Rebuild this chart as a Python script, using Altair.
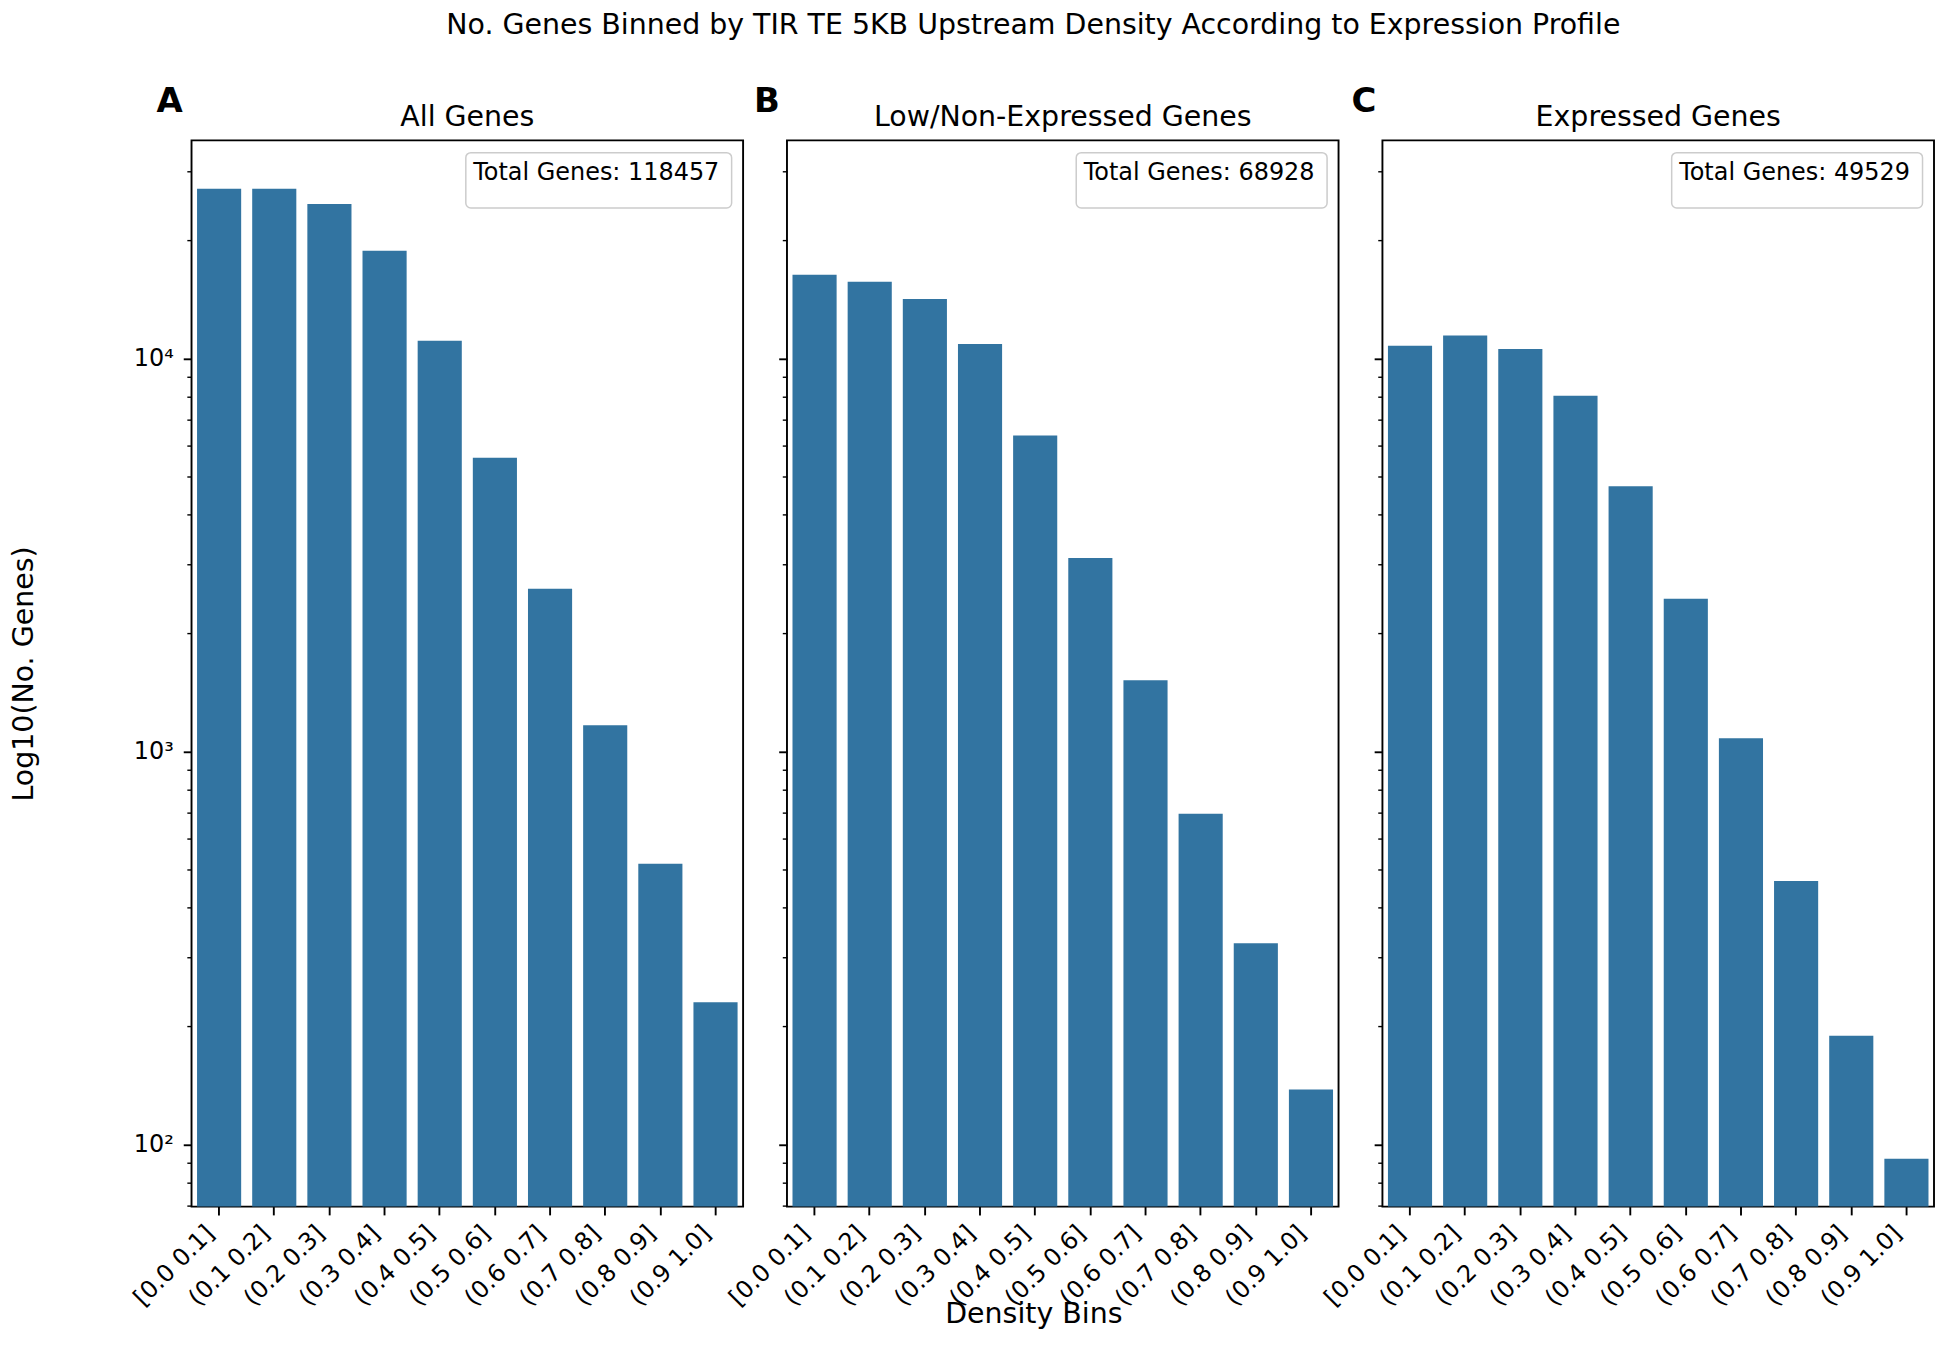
import altair as alt
import pandas as pd

# ---------------- data ----------------
bins = ["[0.0 0.1]", "(0.1 0.2]", "(0.2 0.3]", "(0.3 0.4]", "(0.4 0.5]",
        "(0.5 0.6]", "(0.6 0.7]", "(0.7 0.8]", "(0.8 0.9]", "(0.9 1.0]"]
all_genes = [27030, 27030, 24720, 18790, 11090, 5585, 2592, 1166, 518, 230]
low_genes = [16310, 15670, 14160, 10880, 6360, 3107, 1517, 694, 325, 138]
expr_genes = [10770, 11440, 10560, 8030, 4727, 2446, 1080, 468, 189, 92]
panel_titles = ["All Genes", "Low/Non-Expressed Genes", "Expressed Genes"]
panel_letters = ["A", "B", "C"]
totals = [118457, 68928, 49529]
suptitle = "No. Genes Binned by TIR TE 5KB Upstream Density According to Expression Profile"
y_title = "Log10(No. Genes)"
x_title = "Density Bins"

# ---------------- style / layout ----------------
FONT = "DejaVu Sans"
BLUE = "#3274a1"
W, H = 553, 1069
Y_MIN, Y_MAX = 69.5, 35860
y_tick_values = [70, 80, 90] + [k * 100 for k in range(1, 10)] + \
    [k * 1000 for k in range(1, 10)] + [k * 10000 for k in range(1, 4)]
MAJOR_TEST = "indexof([100, 1000, 10000], datum.value) >= 0"
legend_left = [275, 290, 290]
legend_right = W - 11.5
letter_dx = [-35, -33, -31]
TITLE_FS = 28.5
TEXT_FS = 24

panel_values = [all_genes, low_genes, expr_genes]


def make_panel(i):
    df = pd.DataFrame({"bin": bins, "count": panel_values[i]})
    common_y = dict(
        values=y_tick_values,
        tickSize={"condition": {"test": MAJOR_TEST, "value": 8.3}, "value": 4.7},
        tickWidth={"condition": {"test": MAJOR_TEST, "value": 1.9}, "value": 1.4},
        tickColor="black",
        domain=False,
        grid=False,
        labelOverlap=False,
    )
    if i == 0:
        y_axis = alt.Axis(
            title=y_title,
            labelExpr="datum.value == 100 ? '10²' : datum.value == 1000 ? '10³' : datum.value == 10000 ? '10⁴' : ''",
            labelFont=FONT, labelFontSize=TEXT_FS, labelColor="black", labelPadding=10,
            titleFont=FONT, titleFontSize=TITLE_FS, titleFontWeight="normal",
            titleColor="black", titlePadding=95,
            **common_y,
        )
    else:
        y_axis = alt.Axis(title=None, labels=False, **common_y)

    x_kwargs = dict(
        labelAngle=-45, labelAlign="right", labelBaseline="bottom",
        labelFont=FONT, labelFontSize=TEXT_FS, labelColor="black", labelPadding=23,
        tickSize=8.3, tickWidth=1.9, tickColor="black", domain=False,
        labelOverlap=False, labelLimit=0,
    )
    if i == 1:
        x_axis = alt.Axis(title=x_title, titleFont=FONT, titleFontSize=TITLE_FS,
                          titleFontWeight="normal", titleColor="black",
                          titleX=247, titleY=122, titleBaseline="bottom",
                          **x_kwargs)
    else:
        x_axis = alt.Axis(title=None, **x_kwargs)

    bars = alt.Chart(df).mark_bar(color=BLUE).encode(
        x=alt.X("bin:N", sort=bins,
                scale=alt.Scale(paddingInner=0.2, paddingOuter=0.1),
                axis=x_axis),
        y=alt.Y("count:Q",
                scale=alt.Scale(type="log", domain=[Y_MIN, Y_MAX], nice=False),
                axis=y_axis),
        y2=alt.datum(Y_MIN),
    )

    legend_df = pd.DataFrame({"label": [f"Total Genes: {totals[i]}"]})
    box = alt.Chart(legend_df).mark_rect(
        fill="white", stroke="#cccccc", strokeWidth=1.5, cornerRadius=5
    ).encode(
        x=alt.value(legend_left[i]), x2=alt.value(legend_right),
        y=alt.value(12.3), y2=alt.value(67.7),
    )
    text = alt.Chart(legend_df).mark_text(
        align="left", baseline="alphabetic", font=FONT, fontSize=TEXT_FS, color="black"
    ).encode(
        x=alt.value(legend_left[i] + 7.5), y=alt.value(40), text="label:N"
    )
    letter_df = pd.DataFrame({"letter": [panel_letters[i]]})
    letter = alt.Chart(letter_df).mark_text(
        align="left", baseline="alphabetic", font=FONT, fontSize=34,
        fontWeight="bold", color="black"
    ).encode(
        x=alt.value(letter_dx[i]), y=alt.value(-28), text="letter:N"
    )
    title_df = pd.DataFrame({"t": [panel_titles[i]]})
    ptitle = alt.Chart(title_df).mark_text(
        align="center", baseline="alphabetic", font=FONT, fontSize=TITLE_FS,
        color="black"
    ).encode(x=alt.value(W / 2), y=alt.value(-14.3), text="t:N")

    layers = [bars, box, text, letter, ptitle]
    if i == 1:
        sup_df = pd.DataFrame({"t": [suptitle]})
        sup = alt.Chart(sup_df).mark_text(
            align="center", baseline="top", font=FONT, fontSize=TITLE_FS,
            color="black"
        ).encode(x=alt.value(247), y=alt.value(-130), text="t:N")
        layers.append(sup)

    return alt.layer(*layers).properties(width=W, height=H)


chart = alt.HConcatChart(
    hconcat=[make_panel(i) for i in range(3)],
    spacing=44,
    bounds="flush",
).properties(
    padding={"left": 0, "top": 0, "right": 0, "bottom": 0},
).configure_view(
    stroke="black", strokeWidth=1.9
)

chart.save("out.html", embed_options={"renderer": "svg", "actions": False})
